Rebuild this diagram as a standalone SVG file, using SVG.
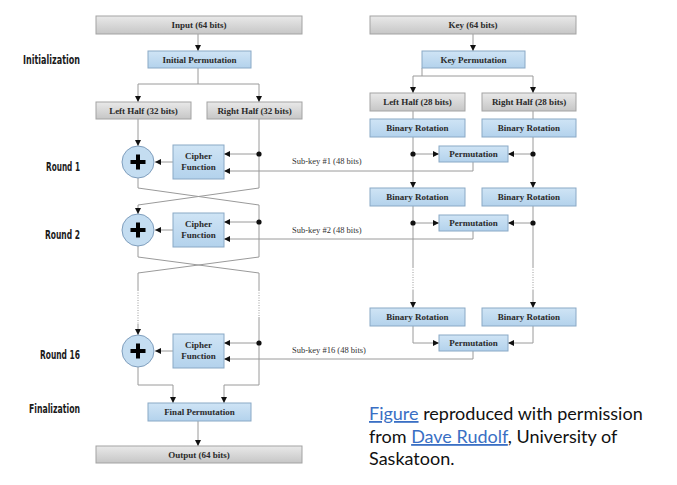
<svg xmlns="http://www.w3.org/2000/svg" width="677" height="485" viewBox="0 0 677 485">
<defs>
<linearGradient id="gGray" x1="0" y1="0" x2="0" y2="1">
<stop offset="0" stop-color="#e9e9e9"/>
<stop offset="1" stop-color="#c6c6c6"/>
</linearGradient>
<linearGradient id="gBlue" x1="0" y1="0" x2="0" y2="1">
<stop offset="0" stop-color="#cfe4f5"/>
<stop offset="1" stop-color="#b3d2ec"/>
</linearGradient>
<marker id="arr" viewBox="0 0 6 6" refX="6" refY="3" markerWidth="6" markerHeight="6" orient="auto" markerUnits="userSpaceOnUse">
<path d="M0,0 L6,3 L0,6 z" fill="#111"/>
</marker>
<style>
.gray{fill:url(#gGray);stroke:#a3a3a3;stroke-width:1}
.blue{fill:url(#gBlue);stroke:#8aa9c6;stroke-width:1}
.xor{fill:#c4ddf1;stroke:#7f9ebd;stroke-width:1}
.bt{font-family:"Liberation Serif","Times New Roman",serif;font-weight:bold;font-size:9px;fill:#2a2a2a;text-anchor:middle}
.sk{font-family:"Liberation Serif","Times New Roman",serif;font-size:8.5px;fill:#333}
.lab{font-family:"DejaVu Sans Condensed","Liberation Sans",sans-serif;font-weight:bold;font-size:11.5px;fill:#1a1a1a}
.ln{fill:none;stroke:#9a9a9a;stroke-width:1}
.dot{fill:none;stroke:#9a9a9a;stroke-width:1;stroke-dasharray:1 1.5}
.arw{marker-end:url(#arr)}
.cap{font-family:Lato,"Liberation Sans",sans-serif;font-size:18px;fill:#111}
.link{fill:#3a6fc4;text-decoration:underline}
.plus{stroke:#000;stroke-width:4;fill:none}
</style>
</defs>
<rect width="677" height="485" fill="#ffffff"/>

<g id="labels">
<text class="lab" x="23" y="64" textLength="57" lengthAdjust="spacingAndGlyphs">Initialization</text>
<text class="lab" x="46" y="171" textLength="34" lengthAdjust="spacingAndGlyphs">Round 1</text>
<text class="lab" x="45" y="239" textLength="35" lengthAdjust="spacingAndGlyphs">Round 2</text>
<text class="lab" x="40" y="359" textLength="40" lengthAdjust="spacingAndGlyphs">Round 16</text>
<text class="lab" x="29" y="413" textLength="51" lengthAdjust="spacingAndGlyphs">Finalization</text>
</g>

<g id="connectors">
<path class="ln arw" d="M198,34 V51"/>
<path class="ln arw" d="M198,68 V84 H138 V102"/>
<path class="ln arw" d="M198,84 H259 V102"/>
<path class="ln arw" d="M138,119 V146"/>
<path class="ln arw" d="M259,119 V188 L138,205 V214"/>
<path class="ln" d="M138,178 V188 L259,205 V257 L138,273 V290"/>
<path class="dot" d="M138,290 V324"/>
<path class="ln arw" d="M138,324 V335"/>
<path class="ln" d="M138,246 V257 L259,273 V290"/>
<path class="dot" d="M259,290 V317"/>
<path class="ln arw" d="M259,317 V385 H224 V403"/>
<path class="ln arw" d="M138,367 V385 H173 V403"/>
<path class="ln arw" d="M198,421 V446"/>
<path class="ln arw" d="M173,162 H155"/>
<path class="ln arw" d="M173,230 H155"/>
<path class="ln arw" d="M173,351 H155"/>
<path class="ln arw" d="M259,154 H224"/>
<path class="ln arw" d="M259,222 H224"/>
<path class="ln arw" d="M259,343 H224"/>
<path class="ln arw" d="M473,162 V171 H224"/>
<path class="ln arw" d="M473,231 V239 H224"/>
<path class="ln arw" d="M473,351 V359 H224"/>
<path class="ln arw" d="M473,34 V51"/>
<path class="ln arw" d="M422,68 V76 H413 V93"/>
<path class="ln arw" d="M422,76 H533 V93"/>
<path class="ln" d="M413,111 V119"/>
<path class="ln" d="M533,111 V119"/>
<path class="ln arw" d="M413,137 V188"/>
<path class="ln arw" d="M533,137 V188"/>
<path class="ln arw" d="M413,154 H439"/>
<path class="ln arw" d="M533,154 H508"/>
<path class="ln" d="M413,206 V267"/>
<path class="ln" d="M533,206 V267"/>
<path class="dot" d="M413,267 V290"/>
<path class="dot" d="M533,267 V290"/>
<path class="ln arw" d="M413,290 V308"/>
<path class="ln arw" d="M533,290 V308"/>
<path class="ln arw" d="M413,223 H439"/>
<path class="ln arw" d="M533,223 H508"/>
<path class="ln arw" d="M413,326 V343 H439"/>
<path class="ln arw" d="M533,326 V343 H508"/>
<circle cx="259" cy="154" r="2.6" fill="#111"/>
<circle cx="259" cy="222" r="2.6" fill="#111"/>
<circle cx="259" cy="343" r="2.6" fill="#111"/>
<circle cx="413" cy="154" r="2.6" fill="#111"/>
<circle cx="533" cy="154" r="2.6" fill="#111"/>
<circle cx="413" cy="223" r="2.6" fill="#111"/>
<circle cx="533" cy="223" r="2.6" fill="#111"/>
<text class="sk" x="292" y="164">Sub-key #1 (48 bits)</text>
<text class="sk" x="292" y="233">Sub-key #2 (48 bits)</text>
<text class="sk" x="292" y="353">Sub-key #16 (48 bits)</text>
</g>

<g id="input"><rect class="gray" x="96" y="16" width="206" height="18"/><text class="bt" x="199" y="28">Input (64 bits)</text></g>
<g id="initial-permutation"><rect class="blue" x="148" y="51" width="103" height="17"/><text class="bt" x="199.5" y="62.5">Initial Permutation</text></g>
<g id="left-half-32"><rect class="gray" x="96" y="102" width="95" height="17"/><text class="bt" x="143.5" y="113.5">Left Half (32 bits)</text></g>
<g id="right-half-32"><rect class="gray" x="207" y="102" width="95" height="17"/><text class="bt" x="254.5" y="113.5">Right Half (32 bits)</text></g>

<g id="xor-1"><circle class="xor" cx="138" cy="162" r="16"/><path class="plus" d="M130.5,162 H145.5 M138,154.5 V169.5"/></g>
<g id="cipher-1"><rect class="blue" x="173" y="145" width="51" height="34"/><text class="bt" x="198.5" y="159">Cipher</text><text class="bt" x="198.5" y="170">Function</text></g>
<g id="xor-2"><circle class="xor" cx="138" cy="230" r="16"/><path class="plus" d="M130.5,230 H145.5 M138,222.5 V237.5"/></g>
<g id="cipher-2"><rect class="blue" x="173" y="213" width="51" height="34"/><text class="bt" x="198.5" y="227">Cipher</text><text class="bt" x="198.5" y="238">Function</text></g>
<g id="xor-16"><circle class="xor" cx="138" cy="351" r="16"/><path class="plus" d="M130.5,351 H145.5 M138,343.5 V358.5"/></g>
<g id="cipher-16"><rect class="blue" x="173" y="334" width="51" height="34"/><text class="bt" x="198.5" y="348">Cipher</text><text class="bt" x="198.5" y="359">Function</text></g>

<g id="final-permutation"><rect class="blue" x="148" y="403" width="103" height="18"/><text class="bt" x="199.5" y="415">Final Permutation</text></g>
<g id="output"><rect class="gray" x="96" y="446" width="206" height="17"/><text class="bt" x="199" y="457.5">Output (64 bits)</text></g>

<g id="key"><rect class="gray" x="370" y="16" width="206" height="18"/><text class="bt" x="473" y="28">Key (64 bits)</text></g>
<g id="key-permutation"><rect class="blue" x="422" y="51" width="103" height="17"/><text class="bt" x="473.5" y="62.5">Key Permutation</text></g>
<g id="left-half-28"><rect class="gray" x="370" y="93" width="95" height="18"/><text class="bt" x="417.5" y="105">Left Half (28 bits)</text></g>
<g id="right-half-28"><rect class="gray" x="482" y="93" width="94" height="18"/><text class="bt" x="529" y="105">Right Half (28 bits)</text></g>
<g id="rot-l1"><rect class="blue" x="370" y="119" width="95" height="18"/><text class="bt" x="417.5" y="131">Binary Rotation</text></g>
<g id="rot-r1"><rect class="blue" x="482" y="119" width="94" height="18"/><text class="bt" x="529" y="131">Binary Rotation</text></g>
<g id="perm-1"><rect class="blue" x="439" y="146" width="69" height="16"/><text class="bt" x="473.5" y="157">Permutation</text></g>
<g id="rot-l2"><rect class="blue" x="370" y="188" width="95" height="18"/><text class="bt" x="417.5" y="200">Binary Rotation</text></g>
<g id="rot-r2"><rect class="blue" x="482" y="188" width="94" height="18"/><text class="bt" x="529" y="200">Binary Rotation</text></g>
<g id="perm-2"><rect class="blue" x="439" y="215" width="69" height="16"/><text class="bt" x="473.5" y="226">Permutation</text></g>
<g id="rot-l16"><rect class="blue" x="370" y="308" width="95" height="18"/><text class="bt" x="417.5" y="320">Binary Rotation</text></g>
<g id="rot-r16"><rect class="blue" x="482" y="308" width="94" height="18"/><text class="bt" x="529" y="320">Binary Rotation</text></g>
<g id="perm-16"><rect class="blue" x="439" y="335" width="69" height="16"/><text class="bt" x="473.5" y="346">Permutation</text></g>

<g id="caption">
<text class="cap" x="369" y="420"><tspan class="link">Figure</tspan> reproduced with permission</text>
<text class="cap" x="369" y="443">from <tspan class="link">Dave Rudolf</tspan>, University of</text>
<text class="cap" x="369" y="465">Saskatoon.</text>
</g>
</svg>
